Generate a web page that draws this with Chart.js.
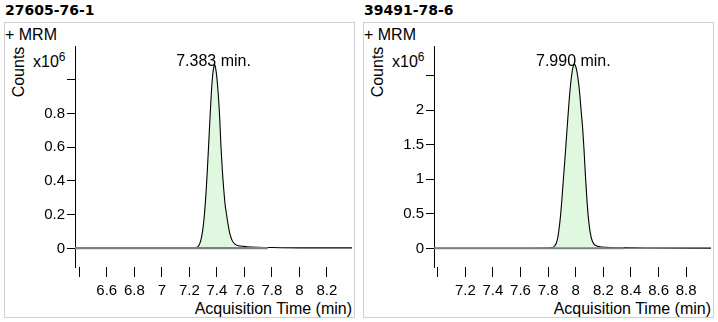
<!DOCTYPE html>
<html>
<head>
<meta charset="utf-8">
<script src="https://cdn.jsdelivr.net/npm/chart.js@4.4.1/dist/chart.umd.min.js"></script>
<style>
  html,body{margin:0;padding:0;background:#fff;}
  #wrap{position:relative;width:718px;height:322px;background:#fff;overflow:hidden;
        font-family:"Liberation Sans",Arial,sans-serif;color:#000;}
  .title{position:absolute;font-family:"DejaVu Sans",sans-serif;font-weight:bold;font-size:14px;line-height:16px;white-space:nowrap;}
  .box{position:absolute;border:1px solid #cfcfcf;}
  .txt{position:absolute;font-size:16px;line-height:16px;white-space:nowrap;}
  .counts{position:absolute;font-size:16px;line-height:16px;white-space:nowrap;transform:translate(-50%,-50%) rotate(-90deg);}
  .exp sup{font-size:12px;position:relative;top:-2px;vertical-align:top;line-height:10px;}
  canvas{position:absolute;}
</style>
</head>
<body>
<div id="wrap">
  <div class="title" style="left:5px;top:2px;">27605-76-1</div>
  <div class="title" style="left:364px;top:2px;">39491-78-6</div>

  <div class="box" style="left:4px;top:22px;width:349px;height:294px;"></div>
  <div class="box" style="left:363px;top:22px;width:349px;height:294px;"></div>

  <div class="txt" style="left:5px;top:27px;">+ MRM</div>
  <div class="txt" style="left:364px;top:27px;">+ MRM</div>

  <div class="counts" style="left:19px;top:72px;">Counts</div>
  <div class="counts" style="left:378px;top:72px;">Counts</div>

  <div class="txt exp" style="left:33px;top:54px;">x10<sup>6</sup></div>
  <div class="txt exp" style="left:392px;top:54px;">x10<sup>6</sup></div>

  <div class="txt" style="right:366px;top:301px;">Acquisition Time (min)</div>
  <div class="txt" style="right:7px;top:301px;">Acquisition Time (min)</div>

  <canvas id="c1" width="349" height="294" style="left:5px;top:23px;"></canvas>
  <canvas id="c2" width="349" height="294" style="left:364px;top:23px;"></canvas>
</div>
<script>
// ---------- Panel 1: 27605-76-1 ----------
const times1 = [6.369, 7.00, 7.20, 7.24, 7.26, 7.27, 7.28, 7.29, 7.30, 7.31, 7.32, 7.33, 7.34, 7.35, 7.36, 7.37, 7.38, 7.383,
                7.39, 7.40, 7.41, 7.42, 7.43, 7.44, 7.45, 7.46, 7.47, 7.48, 7.49, 7.50, 7.51, 7.52, 7.54, 7.57, 7.62, 7.70, 7.80, 8.00, 8.382];
const counts1 = [0.003, 0.003, 0.004, 0.006, 0.009, 0.020, 0.040, 0.074, 0.127, 0.206, 0.315, 0.452, 0.611, 0.773, 0.922, 1.032, 1.083, 1.090,
                 1.072, 1.012, 0.913, 0.784, 0.600, 0.460, 0.350, 0.260, 0.203, 0.150, 0.105, 0.072, 0.050, 0.036, 0.022, 0.015, 0.011, 0.008, 0.006, 0.004, 0.004];
const peakTime1 = 7.383, peakLabel1 = "7.383 min.";
const integStart1 = 7.25, integEnd1 = 7.77, baseline1 = 0.003;
const yRange1 = [-0.109, 1.199];
const xRange1 = [6.369, 8.382];
const yTickValues1 = [0, 0.2, 0.4, 0.6, 0.8, 1.0];
const yTickLabels1 = ["0", "0.2", "0.4", "0.6", "0.8", ""];
const xTickValues1 = [6.4, 6.6, 6.8, 7.0, 7.2, 7.4, 7.6, 7.8, 8.0, 8.2];
const xTickLabels1 = ["", "6.6", "6.8", "7", "7.2", "7.4", "7.6", "7.8", "8", "8.2"];

// ---------- Panel 2: 39491-78-6 ----------
const times2 = [6.973, 7.50, 7.78, 7.82, 7.84, 7.85, 7.86, 7.87, 7.88, 7.89, 7.90, 7.91, 7.92, 7.93, 7.94, 7.95, 7.96, 7.97, 7.98, 7.99,
                8.00, 8.01, 8.02, 8.03, 8.04, 8.05, 8.06, 8.07, 8.08, 8.09, 8.10, 8.11, 8.12, 8.13, 8.14, 8.16, 8.19, 8.25, 8.35, 8.50, 8.98];
const counts2 = [0.005, 0.005, 0.008, 0.013, 0.025, 0.045, 0.085, 0.16, 0.30, 0.48, 0.72, 0.99, 1.25, 1.53, 1.81, 2.08, 2.32, 2.50, 2.62, 2.66,
                 2.63, 2.54, 2.40, 2.21, 1.97, 1.74, 1.43, 1.06, 0.74, 0.48, 0.30, 0.18, 0.11, 0.072, 0.050, 0.032, 0.022, 0.014, 0.010, 0.008, 0.007];
const peakTime2 = 7.990, peakLabel2 = "7.990 min.";
const integStart2 = 7.82, integEnd2 = 8.35, baseline2 = 0.005;
const yRange2 = [-0.266, 2.926];
const xRange2 = [6.973, 8.98];
const yTickValues2 = [0, 0.5, 1, 1.5, 2, 2.5];
const yTickLabels2 = ["0", "0.5", "1", "1.5", "2", ""];
const xTickValues2 = [7.0, 7.2, 7.4, 7.6, 7.8, 8.0, 8.2, 8.4, 8.6, 8.8];
const xTickLabels2 = ["", "7.2", "7.4", "7.6", "7.8", "8", "8.2", "8.4", "8.6", "8.8"];

const FONT = '"Liberation Sans", Arial, sans-serif';

const peakLabelPlugin = {
  id: 'peakLabel',
  afterDatasetsDraw(chart, args, opts) {
    const { ctx, scales: { x, y } } = chart;
    const px = x.getPixelForValue(opts.time);
    const py = y.getPixelForValue(opts.value);
    ctx.save();
    ctx.font = '16px ' + FONT;
    ctx.fillStyle = '#000';
    ctx.textAlign = 'center';
    ctx.textBaseline = 'alphabetic';
    ctx.fillText(opts.text, px - 1, py + 2);
    ctx.restore();
  }
};

function makeChart(id, times, counts, peakTime, peakText, iStart, iEnd, base, xr, yr, xtv, xtl, ytv, ytl) {
  const pts = times.map((t, i) => ({ x: t, y: counts[i] }));
  const peakPts = pts.filter(p => p.x >= iStart && p.x <= iEnd);
  const peakVal = counts[times.indexOf(peakTime)];
  const basePts = [{ x: xr[0], y: base }, { x: iEnd, y: base }];
  return new Chart(document.getElementById(id), {
    type: 'line',
    data: {
      datasets: [
        { data: basePts, borderColor: '#808080', borderWidth: 2.2, pointRadius: 0, fill: false, order: 0 },
        { data: pts, borderColor: '#000', borderWidth: 1.1, pointRadius: 0, fill: false, cubicInterpolationMode: 'monotone', order: 1 },
        { data: peakPts, borderColor: 'rgba(0,0,0,0)', borderWidth: 0, backgroundColor: '#dff8df', pointRadius: 0,
          fill: 'origin', cubicInterpolationMode: 'monotone', order: 2 }
      ]
    },
    options: {
      responsive: false,
      animation: false,
      events: [],
      layout: { padding: { top: 23, right: 2, bottom: 0, left: 0 } },
      plugins: {
        legend: { display: false },
        tooltip: { enabled: false },
        peakLabel: { time: peakTime, value: peakVal, text: peakText }
      },
      scales: {
        x: {
          type: 'linear', position: 'bottom', min: xr[0], max: xr[1],
          afterBuildTicks: s => { s.ticks = xtv.map(v => ({ value: v })); },
          afterFit: s => { s.height = 50; },
          grid: { display: true, drawOnChartArea: false, drawTicks: true, tickLength: 10, color: '#000', tickColor: '#000', lineWidth: 1 },
          border: { display: false },
          ticks: { color: '#000', font: { family: FONT, size: 15 }, padding: 5, maxRotation: 0, autoSkip: false,
                   callback: (v, i) => xtl[i] }
        },
        y: {
          type: 'linear', min: yr[0], max: yr[1],
          afterBuildTicks: s => { s.ticks = ytv.map(v => ({ value: v })); },
          afterFit: s => { s.width = 70; },
          grid: { display: true, drawOnChartArea: false, drawTicks: true, tickLength: 8, color: '#000', tickColor: '#000', lineWidth: 1 },
          border: { display: true, color: '#000', width: 1 },
          ticks: { color: '#000', font: { family: FONT, size: 15 }, padding: 2, autoSkip: false,
                   callback: (v, i) => ytl[i] }
        }
      }
    },
    plugins: [peakLabelPlugin]
  });
}

makeChart('c1', times1, counts1, peakTime1, peakLabel1, integStart1, integEnd1, baseline1, xRange1, yRange1,
          xTickValues1, xTickLabels1, yTickValues1, yTickLabels1);
makeChart('c2', times2, counts2, peakTime2, peakLabel2, integStart2, integEnd2, baseline2, xRange2, yRange2,
          xTickValues2, xTickLabels2, yTickValues2, yTickLabels2);
</script>
</body>
</html>
